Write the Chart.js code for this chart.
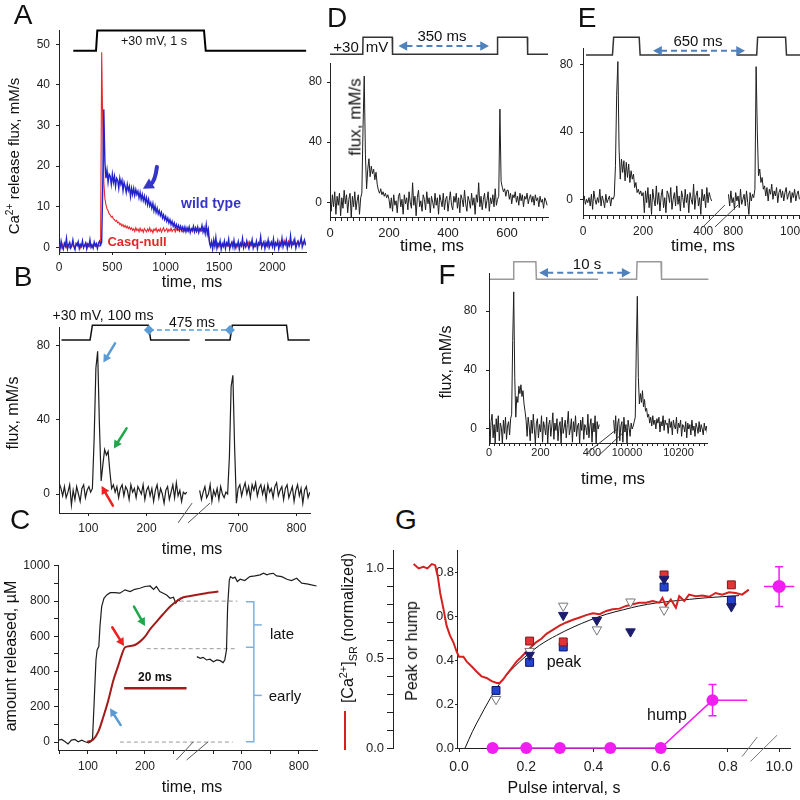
<!DOCTYPE html>
<html>
<head>
<meta charset="utf-8">
<script src="https://cdn.jsdelivr.net/npm/chart.js@4.4.1/dist/chart.umd.min.js"></script>
<style>
  html, body { margin: 0; padding: 0; }
  body { width: 800px; height: 800px; overflow: hidden; background: #fff; position: relative;
         font-family: 'Liberation Sans', Arial, sans-serif; color: #111; }
  canvas { position: absolute; }
  .t { position: absolute; transform: translate(-50%, -50%); white-space: nowrap; line-height: 1; }
  .r { transform: translate(-50%, -50%) rotate(-90deg); }
  .L { font-size: 28px; }
  .b { font-weight: bold; }
  sup, sub { font-size: 0.68em; line-height: 0; }
</style>
</head>
<body>
<div id="plots"></div>

<!-- panel letters -->
<div class="t L" style="left:23px;top:15px">A</div>
<div class="t L" style="left:23px;top:277px">B</div>
<div class="t L" style="left:20px;top:520px">C</div>
<div class="t L" style="left:337px;top:18px">D</div>
<div class="t L" style="left:587px;top:18px">E</div>
<div class="t L" style="left:447px;top:275px">F</div>
<div class="t L" style="left:406px;top:520px">G</div>

<!-- A -->
<div class="t" style="left:154px;top:41px;font-size:12.5px">+30 mV, 1 s</div>
<div class="t b" style="left:211px;top:203px;font-size:14px;color:#3434c8">wild type</div>
<div class="t b" style="left:137px;top:241px;font-size:13px;color:#e02828">Casq-null</div>
<div class="t r" style="left:13px;top:156px;font-size:15px">Ca<sup>2+</sup> release flux, mM/s</div>
<div class="t" style="left:192px;top:282px;font-size:16px">time, ms</div>

<!-- B -->
<div class="t" style="left:103px;top:315px;font-size:14px">+30 mV, 100 ms</div>
<div class="t" style="left:192px;top:322px;font-size:14px">475 ms</div>
<div class="t r" style="left:13px;top:413px;font-size:16px">flux, mM/s</div>
<div class="t" style="left:192px;top:549px;font-size:16px">time, ms</div>

<!-- C -->
<div class="t r" style="left:11px;top:656px;font-size:16px">amount released, µM</div>
<div class="t b" style="left:155px;top:677px;font-size:12px">20 ms</div>
<div class="t" style="left:282px;top:633px;font-size:15px">late</div>
<div class="t" style="left:285px;top:695px;font-size:15px">early</div>
<div class="t" style="left:192px;top:787px;font-size:16px">time, ms</div>

<!-- D -->
<div class="t" style="left:346px;top:46px;font-size:15px">+30</div>
<div class="t" style="left:377px;top:46px;font-size:15px">mV</div>
<div class="t" style="left:442px;top:35px;font-size:15px">350 ms</div>
<div class="t r" style="left:355px;top:117px;font-size:17px">flux, mM/s</div>
<div class="t" style="left:432px;top:245px;font-size:17px">time, ms</div>

<!-- E -->
<div class="t" style="left:698px;top:40px;font-size:15px">650 ms</div>
<div class="t" style="left:703px;top:245px;font-size:17px">time, ms</div>

<!-- F -->
<div class="t" style="left:587px;top:263px;font-size:15px">10 s</div>
<div class="t r" style="left:446px;top:362px;font-size:16px">flux, mM/s</div>
<div class="t" style="left:613px;top:478px;font-size:17px">time, ms</div>

<!-- G -->
<div class="t r" style="left:348px;top:628px;font-size:16px">[Ca<sup>2+</sup>]<sub>SR</sub> (normalized)</div>
<div style="position:absolute;left:344px;top:711px;width:2px;height:39px;background:#d62020"></div>
<div class="t r" style="left:412px;top:651px;font-size:16px">Peak or hump</div>
<div class="t" style="left:564px;top:662px;font-size:16px">peak</div>
<div class="t" style="left:667px;top:715px;font-size:16px">hump</div>
<div class="t" style="left:564px;top:788px;font-size:16px">Pulse interval, s</div>

<script>
const FONT = 'Liberation Sans';
const INK = '#1e1e1e';
const ARROW_BLUE = '#4f81bd';
const MAG = '#f01ef0';

// ---------- Panel A: 1 s pulse, sampled every 10 ms ----------
const aDt = 10;
const aBlue = [
  0.8,-0.3,1.5,0.2,-0.5,1.0,0.3,2.2,-0.4,0.6,
  1.2,-0.2,0.4,1.8,0.1,-0.6,0.9,0.5,1.4,-0.3,
  0.7,0.2,1.6,-0.1,0.5,1.1,-0.4,0.8,0.3,1.9,
  0.0,0.6,-0.2,1.3,0.4,0.9,-0.3,1.0,1.5,0.6,
  1.2,15,34,21,17,19,16,18,17.5,15.5,
  18,16,17.5,15,17,16.5,14.5,17,15.5,16.5,
  14,16,15,13.5,15.5,14,15,12.5,14.5,13,
  14.5,12.8,14.2,13.0,13.8,12.2,13.5,11.8,13.0,11.5,
  12.6,11.0,12.2,10.5,11.8,10.2,11.0,9.6,10.8,9.0,
  10.2,8.6,9.6,8.2,9.0,7.8,8.6,7.2,8.0,6.8,
  7.6,6.4,7.2,6.0,6.8,5.6,6.4,5.2,6.0,4.8,
  5.6,4.6,5.4,4.4,5.2,4.2,5.0,4.0,5.0,3.8,
  4.8,4.0,5.0,3.6,4.6,4.2,5.2,3.8,4.8,4.0,
  5.0,3.6,4.6,4.2,5.4,3.8,4.8,3.4,5.6,3.2,
  4.4,1.2,0.2,1.4,-0.4,1.8,0.3,2.4,-0.2,1.0,
  0.4,1.6,-0.5,0.9,0.2,1.5,-0.3,1.1,0.5,2.0,
  -0.4,0.7,1.3,0.0,1.7,-0.2,0.8,0.3,1.4,-0.5,
  1.0,0.4,2.2,-0.1,0.9,0.2,1.6,0.5,-0.3,1.2,
  0.6,1.9,-0.2,0.8,0.3,1.5,-0.4,1.1,0.7,2.6,
  0.0,0.9,1.4,-0.3,1.2,0.4,1.8,-0.1,0.7,1.3,
  0.2,2.0,-0.2,1.0,0.5,1.6,-0.4,0.9,0.3,2.2,
  0.1,1.2,0.6,1.8,-0.3,1.0,0.4,2.8,0.2,1.1,
  0.7,1.9,-0.2,0.9,1.5,0.3,1.2,2.4,0.1,1.0,
  1.8,0.5
];
const aRed = [
  0.2,0.5,-0.2,0.8,0.1,0.4,1.0,0.0,0.6,0.3,
  -0.1,0.7,0.2,0.9,0.4,0.0,0.5,1.1,0.2,0.6,
  -0.2,0.4,0.8,0.1,0.5,0.3,0.9,0.0,0.6,0.2,
  0.7,-0.1,0.4,0.8,0.2,0.5,0.0,0.6,0.3,0.7,
  48,30,16,12,10.5,9.5,9,8.2,8,7.4,
  7.6,7,6.8,6.4,6.6,6,6.2,5.6,5.8,5.2,
  5.6,5,5.4,4.8,5.2,4.6,5.0,4.4,4.8,4.2,
  4.6,3.9,4.8,4.1,4.5,3.8,4.7,4.0,4.4,3.7,
  4.6,4.2,3.8,4.5,4.0,4.8,3.9,4.3,3.6,4.5,
  4.1,4.7,3.8,4.4,4.0,4.6,3.7,4.3,4.8,3.9,
  4.2,4.6,3.8,4.4,4.0,4.7,3.9,4.3,4.5,3.8,
  4.6,4.1,4.4,3.9,4.8,4.2,3.8,4.5,4.0,4.6,
  4.1,3.9,4.7,4.2,4.4,3.8,4.5,4.0,4.3,3.7,
  4.6,4.1,4.4,3.9,4.2,4.8,3.9,4.3,4.0,4.5,
  3.2,1.5,0.4,0.9,0.1,0.7,1.2,0.3,0.8,-0.1,
  0.6,1.0,0.2,0.7,0.4,1.1,0.0,0.6,0.9,0.3,
  0.8,0.1,0.5,1.2,0.4,0.7,-0.2,0.6,1.0,0.3,
  0.9,0.2,0.6,0.4,1.1,0.0,0.7,0.5,1.3,0.2,
  0.8,0.4,0.9,0.1,0.6,1.0,0.3,0.7,0.5,1.2,
  0.2,0.8,0.4,1.0,0.6,0.2,0.9,1.4,0.5,0.8,
  0.3,1.1,0.7,1.3,0.6,1.0,0.4,1.5,0.8,1.2,
  0.6,1.7,0.9,1.3,0.7,1.6,1.1,0.8,1.4,1.0,
  1.8,0.9,1.2,0.7,1.5,1.1,0.9,1.6,1.2,0.8,
  1.4,1.0
];
const aPulseT = [134, 347, 359, 1359, 1375, 2316];
const aPulseV = [48.4, 48.4, 53.4, 53.4, 48.4, 48.4];
const aXTicks = [0, 500, 1000, 1500, 2000];
const aYTicks = [0, 10, 20, 30, 40, 50];

// ---------- Panel B: two 100 ms pulses, 475 ms apart, 3 ms samples ----------
const bDt = 3;
const bLeftT0 = 50;
const bRightT0 = 634;
const bLeft = [
  6,3,-1,4,-2,1,5,-6,2,-3,4,0,-4,3,5,-2,2,4,
  1,3,30,68,77,38,7,16,24,21,23,12,3,
  5,1,4,-2,3,5,-1,4,2,-3,5,1,3,-2,4,2,0,5,-3,2,4,-1,3,-4,2,5,-2,3,0,-5,2,4,-3,1,5,-2,6,-1,2,-4,1,0,1
];
const bRight = [
  2,-3,1,4,-2,0,5,-4,2,-1,3,-3,4,0,-2,1,
  0,20,58,64,25,-5,3,
  5,-1,3,6,0,4,-2,5,2,6,-1,3,5,0,4,-3,5,1,3,-2,4,6,-1,2,4,-3,3,5,-2,1,4,-4,2,5,-1,3,-5,2,4,-2,1
];
const bPulseLT = [54, 103, 107, 203, 207, 274];
const bPulseRT = [643, 686, 690, 783, 786, 823];
const bPulseV = [83.1, 83.1, 91.1, 91.1, 83.1, 83.1];
const bMarkT = [204, 686];
const bMarkV = 88.5;
const bXTicks = [100, 200, 700, 800];
const bYTicks = [0, 40, 80];

// ---------- Panel C: amount released ----------
const cLeftT = [48,54,60,65,71,77,83,89,95,101,105,108,111,114,116,119,121,124,128,133,139,147,156,165,174,182,191,200,209,215,220,226,232,238,244,250,254,258,261];
const cLeftV = [11,15,2,-11,11,15,2,11,2,-4,2,21,239,466,523,542,655,769,816,835,848,848,845,864,854,867,873,883,886,867,883,854,845,835,816,822,788,807,801];
const cRightT = [621,627,632,638,644,650,656,662,667,670,673,675,678,680,684,688,692,697,705,714,723,732,738,744,749,755,761,770,779,787,796,805,814,822,831];
const cRightV = [485,475,481,466,470,456,466,462,451,466,523,769,920,939,930,936,911,924,917,939,943,949,958,949,955,958,943,939,924,917,930,902,898,892,886];
// red trace on its own (expanded) time base, ms
const cRedT = [9.3,11.2,12.8,14.4,16.0,17.6,19.2,20.2,21.3,22.9,24.4,26.0,27.6,29.2,31.3,33.4,35.6,37.7,39.8,42.4,45.1,47.7,50.9];
const cRedV = [2,15,59,144,239,352,438,494,538,545,551,570,598,640,684,727,769,801,822,830,839,848,854];
const cBarT = [21.0, 40.8];
const cBarV = 305;
const cLevels = [0, 530, 800];
const cLevelFrom = [156, 203, 261];
const cLevelTo = [684, 692, 692];
const cXTicks = [50, 100, 150, 200, 250, 650, 700, 750, 800];
const cXLabels = [100, 200, 700, 800];
const cYTicks = [0, 100, 200, 300, 400, 500, 600, 700, 800, 900, 1000];
const cYLabels = [0, 200, 400, 600, 800, 1000];

// ---------- Panel D: 350 ms interval, 4 ms samples ----------
const dDt = 4;
const dTrace = [
  2,-6,5,-3,7,-8,4,-2,6,-9,3,-4,8,-1,5,-7,2,6,-10,4,-3,7,-5,1,5,-8,3,
  6,50,84,32,9,22,29,17,24,19,22,15,20,12,8,6,9,5,7,4,6,3,5,2,
  -4,3,-6,5,-2,1,-7,4,6,-3,
  2,-8,5,-1,3,-5,7,0,-4,13,
  -2,4,-9,3,8,-3,1,-6,5,2,
  -5,7,-1,3,-7,4,0,-4,6,-2,
  3,-8,5,1,-3,6,-5,2,4,-6,
  1,7,-2,-5,4,0,6,-4,3,-7,
  5,2,-3,8,-1,-6,4,1,-4,6,
  -2,3,-8,5,0,13,-3,4,-5,2,
  6,-4,1,7,-6,3,-1,5,-3,9,
  -2,2,
  4,62,14,10,7,9,4,8,
  8,2,6,-1,5,3,7,0,4,-2,6,1,5,-3,4,2,6,-1,3,5,0,4,-2,5,1,3,-3,4,0,2,-4,3,1,-2
];
const dPulseT = [0, 111, 112, 211, 212, 567, 568, 669, 670, 739];
const dPulseV = [98.5, 98.5, 109.8, 109.8, 98.5, 98.5, 109.8, 109.8, 98.5, 98.5];
const dArrowT = [232, 539];
const dArrowV = 104;
const dLabels = [0, 200, 400, 600];
const dYTicks = [0, 40, 80];

// ---------- Panel E: 650 ms interval ----------
const eDt = 4;
const eLeftT0 = 0;
const eRightT0 = 784;
const eLeft = [
  -1,2,-3,0,-2,1,-4,3,-6,5,0,-3,1,-2,6,-4,2,-1,-5,3,-2,0,2,-4,1,0,
  2,20,62,82,30,12,24,16,23,11,22,13,21,10,17,12,15,7,10,4,6,3,5,2,4,
  -8,5,-2,7,-5,3,-9,6,0,-4,8,-3,4,-7,2,6,-5,1,-8,5,3,-2,7,-6,0,4,-4,8,-3,2,
  -7,5,1,-5,6,-2,3,-8,4,0,-3,9,-6,2,5,-4,1,-9,6,-1,3,-5,7,-2,4,1,-1
];
const eRight = [
  3,-4,5,-2,1,-6,4,-1,2,-5,6,-3,0,3,-4,5,-2,-9,4,-1,3,1,
  6,79,40,14,18,10,13,6,
  8,2,7,-1,6,3,9,0,5,2,7,-2,4,6,1,5,-1,4,7,0,3,5,-2,4,1,6,-1,3,5,0
];
const ePulseLT = [10, 98, 102, 187, 190, 422];
const ePulseRT = [811, 878, 881, 974, 977, 1022];
const ePulseV = [86, 86, 96.5, 96.5, 86, 86];
const eArrowT = [233, 839];
const eArrowV = 88.5;
const eLabels = [0, 200, 400, 800, 1000];

// ---------- Panel F: 10 s interval ----------
const fDt = 4;
const fLeftT0 = 0;
const fRightT0 = 9948;
const fLeft = [
  8,-10,5,10,-6,3,-10,7,-2,9,-8,4,1,-10,6,-3,8,-7,2,5,-4,7,
  10,60,93,35,8,22,18,29,24,30,22,26,17,12,6,
  -5,8,2,-8,6,-3,10,0,-10,4,7,-6,3,-2,9,-9,5,1,-4,8,
  -10,3,6,-5,2,11,-7,4,-1,7,-8,2,5,-10,8,-3,1,6,-6,3,
  12,-4,0,7,-9,5,-2,9,-5,2,4,-10,6,-1,8,-7,3,1,-4,10,
  -6,2,7,-9,4,-2,9,-10,5,0,3
];
const fRight = [
  6,-3,9,-10,4,7,-8,2,5,-9,8,-2,3,-10,6,1,-5,4,0,2,5,
  8,55,90,35,17,24,18,26,15,20,12,14,8,
  10,4,8,2,9,3,6,0,7,4,8,-2,5,2,9,-1,6,3,4,-3,
  7,1,5,-4,6,2,0,8,-3,4,1,6,-5,3,2,-2,5,-6,4,0,
  3,-4,6,-1,2,-5,4,1,-3,5,-2,3,0,-4,4,-1,2,-3
];
const fPulseLT = [4, 94, 96, 182, 184, 424];
const fPulseRT = [9970, 10037, 10039, 10132, 10134, 10316];
const fPulseV = [101.5, 101.5, 113.4, 113.4, 101.5, 101.5];
const fArrowT = [195, 10014];
const fArrowV = 106;
const fLabels = [0, 200, 400, 10000, 10200];

// ---------- Panel G: recovery vs pulse interval ----------
const gFitX = [0.018,0.04,0.062,0.087,0.112,0.136,0.161,0.2,0.24,0.29,0.339,0.39,0.438,0.49,0.536,0.585,0.635,0.685,0.734,0.783,0.833];
const gFitY = [0,0.075,0.14,0.21,0.274,0.322,0.364,0.42,0.468,0.513,0.55,0.583,0.609,0.63,0.647,0.66,0.669,0.677,0.684,0.689,0.694];
const gRedX = [-0.135,-0.120,-0.106,-0.094,-0.081,-0.071,-0.063,-0.056,-0.046,-0.037,-0.027,-0.017,-0.007,0.0,0.013,0.023,0.038,0.052,0.067,0.082,0.097,0.112,0.121,0.131,0.141,0.156,0.171,0.186,0.200,0.215,0.230,0.245,0.260,0.280,0.299,0.319,0.339,0.359,0.378,0.398,0.418,0.438,0.457,0.477,0.497,0.517,0.536,0.556,0.576,0.596,0.605,0.615,0.630,0.645,0.655,0.670,0.684,0.704,0.724,0.744,0.763,0.783,0.803,0.823,0.842,0.862];
const gRedY = [1.024,1.0,1.009,1.0,1.024,1.018,0.954,0.863,0.772,0.681,0.627,0.590,0.536,0.508,0.508,0.481,0.454,0.426,0.399,0.390,0.372,0.362,0.362,0.381,0.408,0.444,0.481,0.508,0.536,0.563,0.590,0.608,0.636,0.659,0.681,0.699,0.714,0.727,0.740,0.750,0.745,0.763,0.772,0.776,0.791,0.800,0.809,0.809,0.818,0.809,0.836,0.791,0.827,0.781,0.845,0.818,0.854,0.845,0.849,0.842,0.863,0.854,0.867,0.863,0.854,0.882];
const gRedSqX = [0.21, 0.31, 0.61, 0.81];
const gRedSqY = [0.487, 0.483, 0.788, 0.743];
const gBlueSqX = [0.11, 0.21, 0.31, 0.61, 0.81];
const gBlueSqY = [0.262, 0.39, 0.46, 0.733, 0.673];
const gNavyX = [0.21, 0.31, 0.41, 0.51, 0.61, 0.81];
const gNavyY = [0.423, 0.605, 0.582, 0.53, 0.769, 0.644];
const gOpenX = [0.11, 0.21, 0.31, 0.41, 0.51, 0.61];
const gOpenY = [0.222, 0.441, 0.647, 0.539, 0.666, 0.629];
const gHumpX = [0.1, 0.2, 0.3, 0.45, 0.6, 0.754];
const gHumpY = [0, 0, 0, 0, 0, 0.218];
const gLongX = [10.0];
const gLongY = [0.736];
const gErrX = [0.754, 10.0];
const gErrY = [0.218, 0.736];
const gErrLo = [0.147, 0.644];
const gErrHi = [0.289, 0.825];
const gErrXLo = [0.754, 9.955];
const gErrXHi = [0.857, 10.045];
const gXTicks = [0, 0.2, 0.4, 0.6, 0.8, 10];
const gYTicks = [0, 0.2, 0.4, 0.6, 0.8];
const gCaTicks = [0, 0.1, 0.2, 0.3, 0.4, 0.5, 0.6, 0.7, 0.8, 0.9, 1.0];
const gCaLabels = [0, 0.5, 1.0];
const G_XMIN = -0.006, G_XMAX = 0.987;

// ---------- broken-axis maps (real time -> axis position) ----------
const same = t => t;
const brkB = t => t > 450 ? t - 343 : t;
const brkC = t => t > 450 ? t - 330 : t;
const brkE = t => t > 600 ? t - 300 : t;
const brkF = t => t > 5000 ? t - 9464 : t;
const brkG = t => t > 5 ? t - 9.048 : t;

function trace(t0, dt, vals, map) { return vals.map((v, i) => ({x: map(t0 + i * dt), y: v})); }
function pts(ts, vs, map) { return ts.map((t, i) => ({x: map(t), y: Array.isArray(vs) ? vs[i] : vs})); }
function steps(ranges, step) {
  const out = [];
  ranges.forEach(([a, b]) => { for (let t = a; t <= b; t += step) out.push(t); });
  return out;
}

function ln(data, color, width, extra) {
  return Object.assign({data, borderColor: color, backgroundColor: color, borderWidth: width,
    pointRadius: 0, pointHoverRadius: 0, fill: false, tension: 0}, extra || {});
}

function xAx(min, max, ticks, labels, map, h, tl, pad, fs, fmt) {
  fmt = fmt || String;
  return {
    type: 'linear', position: 'bottom', min, max, bounds: 'data',
    afterFit: s => { s.height = h; },
    afterBuildTicks: s => { s.ticks = ticks.map(t => ({value: map(t)})); },
    ticks: {autoSkip: false, maxRotation: 0, minRotation: 0, padding: pad, color: '#222',
      font: {family: FONT, size: fs},
      callback: (v, i) => labels.includes(ticks[i]) ? fmt(ticks[i]) : ''},
    grid: {drawOnChartArea: false, drawTicks: true, tickLength: tl, color: '#222', lineWidth: 1},
    border: {display: true, color: '#222', width: 1}
  };
}
function yAx(min, max, ticks, labels, w, tl, pad, fs, fmt, extra) {
  fmt = fmt || String;
  return Object.assign({
    type: 'linear', position: 'left', min, max,
    afterFit: s => { s.width = w; },
    afterBuildTicks: s => { s.ticks = ticks.map(v => ({value: v})); },
    ticks: {autoSkip: false, padding: pad, color: '#222', font: {family: FONT, size: fs},
      callback: (v, i) => labels.includes(ticks[i]) ? fmt(ticks[i]) : ''},
    grid: {drawOnChartArea: false, drawTicks: true, tickLength: tl, color: '#222', lineWidth: 1},
    border: {display: true, color: '#222', width: 1}
  }, extra || {});
}

// ---------- decorations (arrows, braces, axis-break marks, error bars) ----------
const DECO = {};
function headAt(ctx, x, y, ang, h, spread) {
  ctx.beginPath(); ctx.moveTo(x, y);
  ctx.lineTo(x - h * Math.cos(ang - spread), y - h * Math.sin(ang - spread));
  ctx.lineTo(x - h * Math.cos(ang + spread), y - h * Math.sin(ang + spread));
  ctx.closePath(); ctx.fill();
}
function drawDeco(chart, layer) {
  const d = DECO[chart.canvas.id];
  if (!d) return;
  const ctx = chart.ctx, sx = chart.scales.x, sy = chart.scales[d.yAxis || 'y'];
  const X = v => sx.getPixelForValue(v), Y = v => sy.getPixelForValue(v);
  ctx.save();
  if (layer === 'under') {
    (d.errs || []).forEach(e => {
      ctx.strokeStyle = e.color; ctx.lineWidth = 1.5; ctx.beginPath();
      const x = X(e.x), y = Y(e.y), y1 = Y(e.lo), y2 = Y(e.hi);
      ctx.moveTo(x, y1); ctx.lineTo(x, y2);
      ctx.moveTo(x - 4, y1); ctx.lineTo(x + 4, y1);
      ctx.moveTo(x - 4, y2); ctx.lineTo(x + 4, y2);
      ctx.moveTo(X(e.xlo), y); ctx.lineTo(X(e.xhi), y);
      ctx.stroke();
    });
  } else {
    (d.lines || []).forEach(l => {
      ctx.strokeStyle = l.color || '#444'; ctx.lineWidth = l.width || 1;
      ctx.setLineDash(l.dash || []);
      ctx.beginPath();
      l.pts.forEach((p, i) => i ? ctx.lineTo(X(p[0]), Y(p[1])) : ctx.moveTo(X(p[0]), Y(p[1])));
      ctx.stroke();
    });
    ctx.setLineDash([]);
    // dashed double-headed interval arrows
    (d.spans || []).forEach(s => {
      const x1 = X(s.from[0]), y1 = Y(s.from[1]), x2 = X(s.to[0]), y2 = Y(s.to[1]);
      const ang = Math.atan2(y2 - y1, x2 - x1), h = 10;
      const ox = h * 0.8 * Math.cos(ang), oy = h * 0.8 * Math.sin(ang);
      ctx.strokeStyle = s.color; ctx.fillStyle = s.color; ctx.lineWidth = 2;
      ctx.setLineDash([6, 4]);
      ctx.beginPath(); ctx.moveTo(x1 + ox, y1 + oy); ctx.lineTo(x2 - ox, y2 - oy); ctx.stroke();
      ctx.setLineDash([]);
      headAt(ctx, x2, y2, ang, h, 0.5);
      headAt(ctx, x1, y1, ang + Math.PI, h, 0.5);
    });
    (d.arrows || []).forEach(a => {
      const x1 = X(a.from[0]), y1 = Y(a.from[1]), x2 = X(a.to[0]), y2 = Y(a.to[1]);
      const cx = a.ctrl ? X(a.ctrl[0]) : x1, cy = a.ctrl ? Y(a.ctrl[1]) : y1;
      const ang = Math.atan2(y2 - cy, x2 - cx), h = a.head || 9;
      const bx = x2 - h * 0.75 * Math.cos(ang), by = y2 - h * 0.75 * Math.sin(ang);
      ctx.strokeStyle = a.color; ctx.fillStyle = a.color; ctx.lineWidth = a.width || 2.5;
      ctx.lineCap = 'round';
      ctx.beginPath(); ctx.moveTo(x1, y1);
      if (a.ctrl) ctx.quadraticCurveTo(cx, cy, bx, by); else ctx.lineTo(bx, by);
      ctx.stroke();
      headAt(ctx, x2, y2, ang, h, 0.5);
    });
  }
  ctx.restore();
}
Chart.register({
  id: 'deco',
  beforeDatasetsDraw(chart) { drawDeco(chart, 'under'); },
  afterDatasetsDraw(chart) { drawDeco(chart, 'over'); }
});

function panel(id, L, T, W, H, padT, padR, datasets, scales) {
  const c = document.createElement('canvas');
  c.id = id; c.width = W; c.height = H;
  Object.assign(c.style, {left: L + 'px', top: T + 'px', width: W + 'px', height: H + 'px'});
  document.getElementById('plots').appendChild(c);
  return new Chart(c, {
    type: 'line',
    data: {datasets},
    options: {
      responsive: false, animation: false, events: [],
      layout: {padding: {top: padT, right: padR, bottom: 0, left: 0}},
      plugins: {legend: {display: false}, tooltip: {enabled: false}},
      scales
    }
  });
}

// ---------- A ----------
DECO.cA = {arrows: [{from: [918, 19.8], ctrl: [900, 16.2], to: [787, 14.4], color: '#3535c8', width: 4, head: 12}]};
panel('cA', 0, 0, 320, 280, 30, 14, [
  ln(trace(0, aDt, aBlue, same), '#2323cc', 1.4),
  ln(trace(0, aDt, aRed, same), '#e8282c', 1.1),
  ln(pts(aPulseT, aPulseV, same), '#000', 2, {clip: false})
], {
  x: xAx(0, 2315, aXTicks, aXTicks, same, 28, 3, 5, 12),
  y: yAx(-1.16, 53.5, aYTicks, aYTicks, 59, 3, 6, 12)
});

// ---------- B ----------
DECO.cB = {
  arrows: [
    {from: [145.8, 81.3], to: [125.8, 70.9], color: '#5b9bd5'},
    {from: [165.6, 35.4], to: [143.8, 24.6], color: '#1fa84a'},
    {from: [142.1, -6.3], to: [122.7, 4.3], color: '#ee2020'}
  ],
  lines: [
    {pts: [[254, -15.6], [278, -4.9]], color: '#555'},
    {pts: [[271, -15.6], [308.7, -4.9]], color: '#555'}
  ]
};
panel('cB', 0, 300, 325, 240, 27, 15, [
  ln(pts(bMarkT, bMarkV, brkB), '#5b9bd5', 1.5, {borderDash: [5, 3], pointStyle: 'rectRot', pointRadius: 5,
    pointBackgroundColor: '#5b9bd5', pointBorderWidth: 0, clip: false}),
  ln(trace(bLeftT0, bDt, bLeft, brkB), INK, 1.2),
  ln(trace(bRightT0, bDt, bRight, brkB), INK, 1.2),
  ln(pts(bPulseLT, bPulseV, brkB), '#111', 1.5, {clip: false}),
  ln(pts(bPulseRT, bPulseV, brkB), '#111', 1.5, {clip: false})
], {
  x: xAx(49.7, 480.3, bXTicks, bXTicks, brkB, 27, 3, 5, 12),
  y: yAx(-10.25, 90.1, bYTicks, bYTicks, 59, 3, 6, 12)
});

// ---------- C ----------
const cBrX = brkC(721), cBrL = brkC(707), cBrR = brkC(735);
DECO.cC = {
  arrows: [
    {from: [157.4, 96.6], to: [138.6, 191.5], color: '#5b9bd5'},
    {from: [142.6, 651.7], to: [163.2, 545], color: '#ee2020'},
    {from: [180.7, 768.8], to: [200, 659], color: '#1fa84a'}
  ],
  lines: [
    {pts: [[255, -102], [285, 2]], color: '#555'},
    {pts: [[273, -102], [311, 2]], color: '#555'},
    {pts: [[cBrL, cLevels[2] - 3], [cBrX, cLevels[2] - 3], [cBrX, cLevels[0] + 2], [cBrL, cLevels[0] + 2]], color: '#7fb0dd', width: 1.5},
    {pts: [[cBrL, cLevels[1] + 8], [cBrX, cLevels[1] + 8]], color: '#7fb0dd', width: 1.5},
    {pts: [[cBrX, (cLevels[1] + cLevels[2]) / 2], [cBrR, (cLevels[1] + cLevels[2]) / 2]], color: '#7fb0dd', width: 1.5},
    {pts: [[cBrX, (cLevels[0] + cLevels[1]) / 2], [cBrR, (cLevels[0] + cLevels[1]) / 2]], color: '#7fb0dd', width: 1.5}
  ]
};
const cLevelDs = cLevels.map((lv, i) => ln(pts([cLevelFrom[i], cLevelTo[i]], lv, brkC), '#999', 1, {borderDash: [4, 3]}));
panel('cC', 0, 548, 330, 252, 17, 13, [
  ln(pts(cRedT, cRedV, same), '#a31a1a', 2, {xAxisID: 'x2', cubicInterpolationMode: 'monotone'}),
  ln(pts(cBarT, cBarV, same), '#a31a1a', 2.5, {xAxisID: 'x2'}),
  ln(pts(cLeftT, cLeftV, brkC), INK, 1.2),
  ln(pts(cRightT, cRightV, brkC), INK, 1.2),
  ...cLevelDs
], {
  x: xAx(47.4, 501.8, cXTicks, cXLabels, brkC, 50, 4, 5.5, 12),
  x2: {type: 'linear', axis: 'x', position: 'bottom', display: false, min: 0, max: 82.2},
  y: yAx(-45, 1005, cYTicks, cYLabels, 58, 4, 4, 12)
});

// ---------- D ----------
DECO.cD = {spans: [{from: [dArrowT[0], dArrowV], to: [dArrowT[1], dArrowV], color: ARROW_BLUE}]};
panel('cD', 290, 0, 270, 250, 63, 12, [
  ln(trace(0, dDt, dTrace, same), INK, 1),
  ln(pts(dPulseT, dPulseV, same), '#333', 1.5, {clip: false})
], {
  x: xAx(0, 739, steps([[0, 720]], 20), dLabels, same, 33, 4, 5, 13),
  y: yAx(-9.8, 92.7, dYTicks, dYTicks, 40, 3, 5, 12)
});

// ---------- E ----------
DECO.cE = {
  spans: [{from: [brkE(eArrowT[0]), eArrowV], to: [brkE(eArrowT[1]), eArrowV], color: ARROW_BLUE}],
  lines: [
    {pts: [[399, -16.5], [472, -3.4]], color: '#444'},
    {pts: [[439, -16.5], [516, -3.4]], color: '#444'}
  ]
};
panel('cE', 550, 0, 280, 250, 48, 30, [
  ln(trace(eLeftT0, eDt, eLeft, brkE), INK, 1),
  ln(trace(eRightT0, eDt, eRight, brkE), INK, 1),
  ln(pts(ePulseLT, ePulseV, brkE), '#333', 1.5, {clip: false}),
  ln(pts(ePulseRT, ePulseV, brkE), '#333', 1.5, {clip: false})
], {
  x: xAx(0, 722, steps([[0, 420], [800, 1020]], 20), eLabels, brkE, 35, 4, 5, 12),
  y: yAx(-9.35, 90.1, dYTicks, dYTicks, 33, 3, 7, 12)
});

// ---------- F ----------
DECO.cF = {
  spans: [{from: [brkF(fArrowT[0]), fArrowV], to: [brkF(fArrowT[1]), fArrowV], color: ARROW_BLUE}],
  lines: [
    {pts: [[379, -16.5], [496, -0.2]], color: '#333'},
    {pts: [[424, -18.3], [535, -0.2]], color: '#333'}
  ]
};
panel('cF', 440, 250, 280, 240, 23, 13, [
  ln(trace(fLeftT0, fDt, fLeft, brkF), INK, 1),
  ln(trace(fRightT0, fDt, fRight, brkF), INK, 1),
  ln(pts(fPulseLT, fPulseV, brkF), '#9a9a9a', 1.5, {clip: false}),
  ln(pts(fPulseRT, fPulseV, brkF), '#9a9a9a', 1.5, {clip: false})
], {
  x: xAx(0, 846.6, steps([[0, 420], [9960, 10300]], 20), fLabels, brkF, 47, 3, 0, 11),
  y: yAx(-9.5, 105.8, dYTicks, dYTicks, 49, 3, 9, 12)
});

// ---------- G ----------
DECO.cG = {
  yAxis: 'y',
  lines: [
    {pts: [[0.842, -0.039], [0.887, 0.050]], color: '#777'},
    {pts: [[0.867, -0.061], [0.946, 0.058]], color: '#777'}
  ],
  errs: gErrX.map((x, i) => ({x: brkG(x), y: gErrY[i], lo: gErrLo[i], hi: gErrHi[i],
    xlo: brkG(gErrXLo[i]), xhi: brkG(gErrXHi[i]), color: MAG}))
};
const NAVY = '#1c1c6e';
const sc = (data, style, rot, r, fillC, edgeC) => ln(data, edgeC, 0, {showLine: false, pointStyle: style,
  pointRotation: rot, pointRadius: r, pointBackgroundColor: fillC, pointBorderColor: edgeC,
  pointBorderWidth: 1, clip: false, yAxisID: 'y'});
const gx = xAx(undefined, undefined, gXTicks, gXTicks, brkG, 52, 4, 7, 14, t => t.toFixed(1));
delete gx.min; delete gx.max;
gx.afterDataLimits = s => { s.min = G_XMIN; s.max = G_XMAX; };
panel('cG', 340, 540, 460, 260, 7, 8, [
  sc(pts(gNavyX, gNavyY, brkG), 'triangle', 180, 5.5, NAVY, NAVY),
  sc(pts(gRedSqX, gRedSqY, brkG), 'rect', 0, 5.6, '#e23434', '#7a1a1a'),
  sc(pts(gBlueSqX, gBlueSqY, brkG), 'rect', 0, 5.6, '#2244d0', '#10106a'),
  sc(pts(gOpenX, gOpenY, brkG), 'triangle', 180, 5.5, '#ffffff', '#777777'),
  ln(pts(gLongX, gLongY, brkG), MAG, 0, {showLine: false, pointRadius: 6.5, pointBackgroundColor: MAG,
    pointBorderWidth: 0, clip: false, yAxisID: 'y'}),
  ln(pts(gHumpX, gHumpY, brkG), MAG, 1.5, {pointRadius: 6, pointBackgroundColor: MAG,
    pointBorderWidth: 0, clip: false, yAxisID: 'y'}),
  ln(pts(gRedX, gRedY, same), '#d62020', 2, {clip: false, yAxisID: 'yCa'}),
  ln(pts(gFitX, gFitY, same), '#111', 1, {cubicInterpolationMode: 'monotone', clip: false, yAxisID: 'y'})
], {
  x: gx,
  yCa: yAx(0, 1.098, gCaTicks, gCaLabels, 53, 6, 3, 13, v => v.toFixed(1), {weight: 10}),
  y: yAx(0, 0.898, gYTicks, gYTicks, 64, 2, 1, 13, v => v.toFixed(1), {weight: 0})
});
</script>
</body>
</html>
